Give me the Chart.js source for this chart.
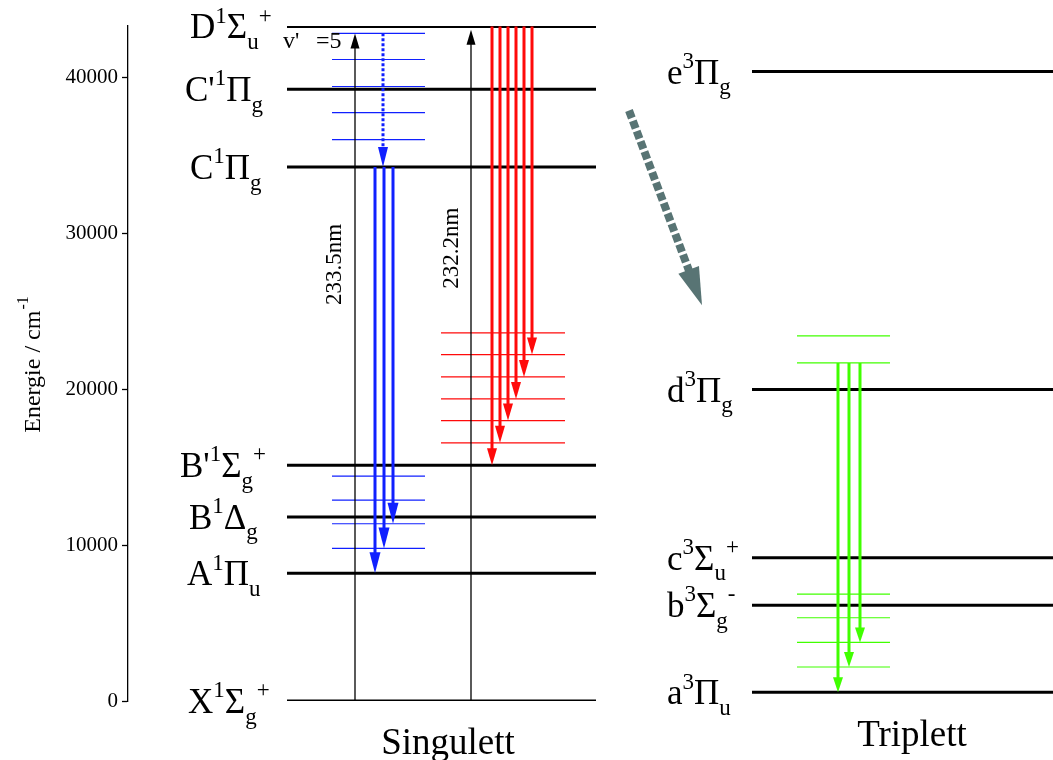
<!DOCTYPE html>
<html lang="de">
<head>
<meta charset="utf-8">
<title>Termschema</title>
<script src="https://cdn.jsdelivr.net/npm/chart.js@4.4.1/dist/chart.umd.min.js"></script>
<style>
  html, body { margin: 0; padding: 0; background: #fff; }
  canvas { display: block; }
</style>
</head>
<body>
<canvas id="termChart" width="1053" height="760"></canvas>
<script>
// Termschema Singulett / Triplett, Energien in cm^-1

const singletStates = ["X", "A", "B", "B'", "C", "C'", "D"];
const singletEnergy = [0, 8190, 11810, 15130, 34250, 39250, 43270];
const tripletStates = ["a", "b", "c", "d", "e"];
const tripletEnergy = [560, 6150, 9190, 19980, 40380];

// Schwingungsniveaus
const vibBlueUpper = [42830, 41150, 39420, 37740, 36010];
const vibBlueLower = [14420, 12880, 11370, 9790];
const vibRed = [23610, 22220, 20790, 19380, 17990, 16560];
const vibGreenUpper = [23420, 21690];
const vibGreenLower = [6860, 5340, 3760, 2180];

// Anregung (nm) aus dem Grundzustand
const pumpNm = [233.5, 232.2];

// Emissionen: Start- und Endniveaus
const blueStart = 34250;
const blueEnds = [8190, 9790, 11370];
const redStart = 43270;
const redEnds = [15130, 16560, 17990, 19380, 20790, 22220];
const greenStart = 21690;
const greenEnds = [560, 2180, 3760];
const relaxation = [42830, 34250];
const iscPath = [37880, 25380];

const yTicks = [0, 10000, 20000, 30000, 40000];

// Termsymbole: [Text, 'sup' | 'sub']
const singletLabels = [
  [["X"], ["1", "sup"], ["Σ"], ["g", "sub"], ["+", "sup"]],
  [["A"], ["1", "sup"], ["Π"], ["u", "sub"]],
  [["B"], ["1", "sup"], ["Δ"], ["g", "sub"]],
  [["B'"], ["1", "sup"], ["Σ"], ["g", "sub"], ["+", "sup"]],
  [["C"], ["1", "sup"], ["Π"], ["g", "sub"]],
  [["C'"], ["1", "sup"], ["Π"], ["g", "sub"]],
  [["D"], ["1", "sup"], ["Σ"], ["u", "sub"], ["+", "sup"]]
];
const tripletLabels = [
  [["a"], ["3", "sup"], ["Π"], ["u", "sub"]],
  [["b"], ["3", "sup"], ["Σ"], ["g", "sub"], ["-", "sup"]],
  [["c"], ["3", "sup"], ["Σ"], ["u", "sub"], ["+", "sup"]],
  [["d"], ["3", "sup"], ["Π"], ["g", "sub"]],
  [["e"], ["3", "sup"], ["Π"], ["g", "sub"]]
];

// horizontale Lage der Elemente (Einheiten der x-Achse)
const layout = {
  singletX: [287, 596],
  tripletX: [752, 1053],
  vibBlueX: [332, 425],
  vibRedX: [441, 565],
  vibGreenX: [797, 890],
  pumpX: [355, 471],
  relaxX: 383,
  blueX: [375, 384, 393],
  redX: [492, 500, 508, 516, 524, 532],
  greenX: [838, 849, 860],
  iscX: [629, 702],
  singletLabelX: [188, 187, 189, 180, 190, 185, 190],
  tripletLabelX: 667
};

const FONT = '"Liberation Serif", "Times New Roman", serif';
const BLUE = "#1020ff";
const RED = "#ff0a0a";
const GREEN = "#40ff00";
const GRAY = "#587474";

function hline(y, xr, color, width) {
  return {
    data: [{ x: xr[0], y: y }, { x: xr[1], y: y }],
    borderColor: color, borderWidth: width,
    showLine: true, pointRadius: 0, borderCapStyle: "butt"
  };
}

function arrow(x0, y0, x1, y1, color, width, head, dash) {
  return {
    data: [{ x: x0, y: y0 }, { x: x1, y: y1 }],
    borderColor: color, borderWidth: width, borderDash: dash || [],
    showLine: true, pointRadius: 0, borderCapStyle: "butt",
    head: Object.assign({ color: color }, head)
  };
}

const datasets = [];
vibBlueUpper.forEach(e => datasets.push(hline(e, layout.vibBlueX, BLUE, 1.2)));
vibBlueLower.forEach(e => datasets.push(hline(e, layout.vibBlueX, BLUE, 1.2)));
vibRed.forEach(e => datasets.push(hline(e, layout.vibRedX, RED, 1.2)));
vibGreenUpper.forEach(e => datasets.push(hline(e, layout.vibGreenX, GREEN, 1.2)));
vibGreenLower.forEach(e => datasets.push(hline(e, layout.vibGreenX, GREEN, 1.2)));
singletEnergy.forEach(e => datasets.push(hline(e, layout.singletX, "#000", 3)));
tripletEnergy.forEach(e => datasets.push(hline(e, layout.tripletX, "#000", 3)));

pumpNm.forEach((nm, i) => {
  const x = layout.pumpX[i];
  datasets.push(arrow(x, 0, x, 1e7 / nm, "#000", 1.3, { len: 15, width: 9 }));
});
datasets.push(arrow(layout.relaxX, relaxation[0], layout.relaxX, relaxation[1], BLUE, 3, { len: 20, width: 10 }, [3, 2]));
blueEnds.forEach((e, i) => {
  const x = layout.blueX[i];
  datasets.push(arrow(x, blueStart, x, e, BLUE, 3, { len: 21, width: 11 }));
});
redEnds.forEach((e, i) => {
  const x = layout.redX[i];
  datasets.push(arrow(x, redStart, x, e, RED, 3, { len: 17, width: 10 }));
});
greenEnds.forEach((e, i) => {
  const x = layout.greenX[i];
  datasets.push(arrow(x, greenStart, x, e, GREEN, 3, { len: 15, width: 10 }));
});
datasets.push(arrow(layout.iscX[0], iscPath[0], layout.iscX[1], iscPath[1], GRAY, 8, { len: 38, width: 22 }, [8, 3]));

// Pfeilspitzen: Schaft vor dem Zeichnen kürzen, danach Spitze füllen
const arrowHeads = {
  id: "arrowHeads",
  beforeDatasetDraw(chart, args) {
    const ds = chart.data.datasets[args.index];
    if (!ds.head) return;
    const pts = args.meta.data;
    const a = pts[0], b = pts[pts.length - 1];
    const dx = b.x - a.x, dy = b.y - a.y, l = Math.hypot(dx, dy) || 1;
    ds._tip = { x: b.x, y: b.y, ux: dx / l, uy: dy / l };
    const back = ds.head.len * 0.75;
    b.x -= ds._tip.ux * back;
    b.y -= ds._tip.uy * back;
  },
  afterDatasetDraw(chart, args) {
    const ds = chart.data.datasets[args.index];
    if (!ds.head || !ds._tip) return;
    const pts = args.meta.data;
    const b = pts[pts.length - 1];
    const t = ds._tip;
    b.x = t.x; b.y = t.y;
    const ctx = chart.ctx;
    const bx = t.x - t.ux * ds.head.len, by = t.y - t.uy * ds.head.len;
    const hw = ds.head.width / 2;
    ctx.save();
    ctx.fillStyle = ds.head.color;
    ctx.beginPath();
    ctx.moveTo(t.x, t.y);
    ctx.lineTo(bx - t.uy * hw, by + t.ux * hw);
    ctx.lineTo(bx + t.uy * hw, by - t.ux * hw);
    ctx.closePath();
    ctx.fill();
    ctx.restore();
  }
};

function drawTerm(ctx, parts, x, baseline, big, small) {
  let cx = x;
  parts.forEach(([t, kind]) => {
    ctx.font = (kind ? small : big) + "px " + FONT;
    let dy = 0;
    if (kind === "sup") dy = -big * 0.45;
    if (kind === "sub") dy = big * 0.3;
    ctx.fillText(t, cx, baseline + dy);
    cx += ctx.measureText(t).width;
  });
}

const textLabels = {
  id: "textLabels",
  afterDraw(chart) {
    const ctx = chart.ctx;
    const y = chart.scales.y;
    ctx.save();
    ctx.fillStyle = "#000";
    ctx.textBaseline = "alphabetic";
    ctx.textAlign = "left";

    singletLabels.forEach((parts, i) => {
      drawTerm(ctx, parts, layout.singletLabelX[i], y.getPixelForValue(singletEnergy[i]) + 12, 35, 23);
    });
    tripletLabels.forEach((parts, i) => {
      drawTerm(ctx, parts, layout.tripletLabelX, y.getPixelForValue(tripletEnergy[i]) + 12, 35, 23);
    });

    // v' = 5
    ctx.font = "24px " + FONT;
    const vy = y.getPixelForValue(vibBlueUpper[0]) + 15;
    ctx.fillText("v'", 283, vy);
    ctx.fillText("=5", 316, vy);

    // Wellenlängen an den Anregungspfeilen
    ctx.font = "23px " + FONT;
    ctx.textAlign = "center";
    ctx.textBaseline = "middle";
    [[layout.pumpX[0] - 20, 28000], [layout.pumpX[1] - 19, 29050]].forEach(([x, e], i) => {
      ctx.save();
      ctx.translate(x, y.getPixelForValue(e));
      ctx.rotate(-Math.PI / 2);
      ctx.fillText(pumpNm[i].toFixed(1) + "nm", 0, 0);
      ctx.restore();
    });

    // Spaltenbeschriftung
    ctx.font = "37px " + FONT;
    ctx.textBaseline = "alphabetic";
    ctx.fillText("Singulett", 448, 754);
    ctx.fillText("Triplett", 912, 746);

    // Achsentitel
    ctx.save();
    ctx.translate(40, 365);
    ctx.rotate(-Math.PI / 2);
    ctx.textAlign = "left";
    const main = "Energie / cm";
    ctx.font = "24px " + FONT;
    const w1 = ctx.measureText(main).width;
    ctx.font = "16px " + FONT;
    const w2 = ctx.measureText("-1").width;
    const x0 = -(w1 + w2) / 2;
    ctx.font = "24px " + FONT;
    ctx.fillText(main, x0, 0);
    ctx.font = "16px " + FONT;
    ctx.fillText("-1", x0 + w1 + 1, -12);
    ctx.restore();

    ctx.restore();
  }
};

new Chart(document.getElementById("termChart"), {
  type: "scatter",
  data: { datasets: datasets.slice().reverse() },
  options: {
    responsive: false,
    animation: false,
    events: [],
    layout: { padding: { top: 26, bottom: 59, left: 0, right: 0 } },
    plugins: {
      legend: { display: false },
      tooltip: { enabled: false }
    },
    scales: {
      x: { type: "linear", display: false, min: 128, max: 1053 },
      y: {
        type: "linear",
        min: 0,
        max: 43300,
        afterFit(scale) { scale.width = 128; },
        afterBuildTicks(scale) { scale.ticks = yTicks.map(v => ({ value: v })); },
        ticks: {
          color: "#000",
          padding: 4,
          font: { family: FONT, size: 21 },
          callback: v => String(v)
        },
        grid: { drawOnChartArea: false, tickLength: 6, color: "#000", tickWidth: 1.3 },
        border: { color: "#000", width: 1.3 }
      }
    }
  },
  plugins: [arrowHeads, textLabels]
});
</script>
</body>
</html>
